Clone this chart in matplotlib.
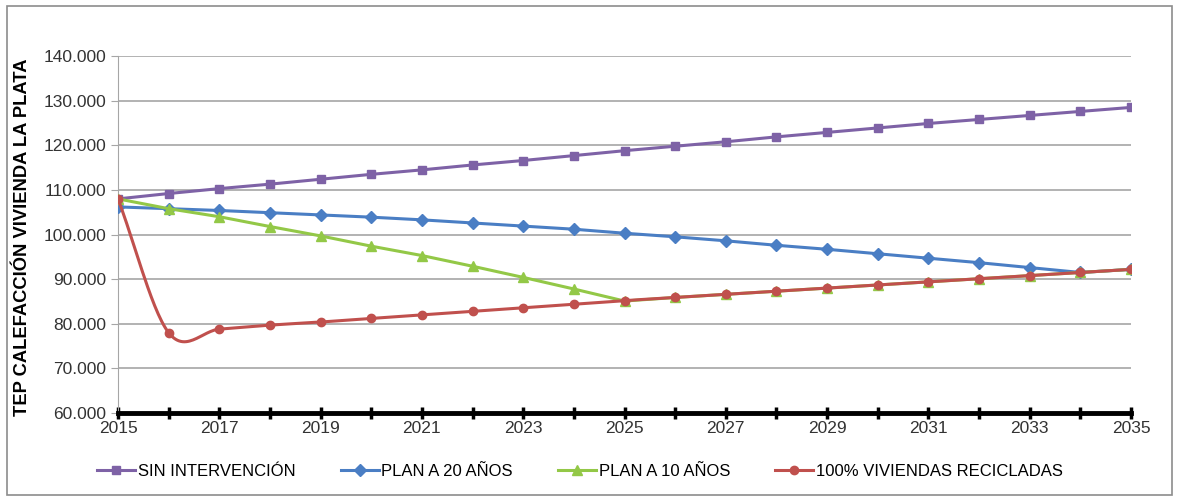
import numpy as np
import matplotlib.pyplot as plt
from matplotlib.patches import Rectangle
from matplotlib.ticker import FuncFormatter, MultipleLocator, FixedLocator

plt.rcParams['font.family'] = ['Liberation Sans', 'DejaVu Sans']

# data (TEP)
years = np.arange(2015, 2036)
sin_intervencion = [108000, 109200, 110300, 111300, 112400, 113500, 114500, 115600,
                    116600, 117700, 118800, 119800, 120800, 121900, 122900, 123900,
                    124900, 125800, 126700, 127600, 128500]
plan_20 = [106200, 105800, 105400, 104900, 104400, 103900, 103300, 102600,
           101900, 101200, 100300, 99500, 98600, 97600, 96700, 95700,
           94700, 93700, 92600, 91500, 92200]
plan_10 = [108000, 105800, 104000, 101800, 99700, 97400, 95300, 92900,
           90400, 87800, 85100, 85900, 86600, 87300, 88000, 88700,
           89400, 90100, 90800, 91500, 92200]
recicladas = [108000, 78000, 78800, 79700, 80400, 81200, 82000, 82800,
              83600, 84400, 85200, 85900, 86600, 87300, 88000, 88700,
              89400, 90100, 90800, 91500, 92200]


def smooth(x, y, n=30):
    # Catmull-Rom like Excel "smoothed line"
    x = np.asarray(x, float)
    y = np.asarray(y, float)
    xs, ys = [], []
    for i in range(len(x) - 1):
        m0 = (y[i + 1] - y[i - 1]) / 2 if i > 0 else (y[i + 1] - y[i])
        m1 = (y[i + 2] - y[i]) / 2 if i + 2 < len(y) else (y[i + 1] - y[i])
        t = np.linspace(0, 1, n)
        h00 = 2 * t**3 - 3 * t**2 + 1
        h10 = t**3 - 2 * t**2 + t
        h01 = -2 * t**3 + 3 * t**2
        h11 = t**3 - t**2
        xs.append(x[i] + t * (x[i + 1] - x[i]))
        ys.append(h00 * y[i] + h10 * m0 + h01 * y[i + 1] + h11 * m1)
    return np.concatenate(xs), np.concatenate(ys)


fig = plt.figure(figsize=(11.79, 5.01), dpi=100)
fig.patches.append(Rectangle((0.006, 0.012), 0.988, 0.976, transform=fig.transFigure,
                             fill=False, edgecolor='#8c8c8c', linewidth=1.2))
ax = fig.add_axes([0.1001, 0.1756, 0.8592, 0.7124])

lw = 2.2
ax.plot(years, sin_intervencion, color='#7E62A6', lw=lw, marker='s', ms=6,
        label='SIN INTERVENCIÓN', zorder=3)
ax.plot(years, plan_20, color='#4A7EC4', lw=lw, marker='D', ms=6.5,
        label='PLAN A 20 AÑOS', zorder=4)
ax.plot(years, plan_10, color='#93C847', lw=lw, marker='^', ms=7,
        label='PLAN A 10 AÑOS', zorder=5)
sx, sy = smooth(years, recicladas)
ax.plot(sx, sy, color='#C0504D', lw=lw, zorder=6)
ax.plot(years, recicladas, color='#C0504D', lw=0, marker='o', ms=6, zorder=6)
ax.plot([], [], color='#C0504D', lw=lw, marker='o', ms=6,
        label='100% VIVIENDAS RECICLADAS')

ax.set_xlim(2015, 2035)
ax.set_ylim(60000, 140000)
ax.yaxis.set_major_locator(MultipleLocator(10000))
ax.yaxis.set_major_formatter(FuncFormatter(lambda v, p: f'{v/1000:.3f}'))
ax.xaxis.set_major_locator(FixedLocator(years[::2]))
ax.xaxis.set_minor_locator(FixedLocator(years))
ax.grid(axis='y', color='#a6a6a6', lw=1.2)
ax.set_axisbelow(True)

for s in ['top', 'right']:
    ax.spines[s].set_visible(False)
ax.spines['left'].set_color('#a6a6a6')
ax.spines['bottom'].set_linewidth(3.5)
ax.spines['bottom'].set_zorder(7)
ax.tick_params(axis='y', length=5, color='#a6a6a6', labelsize=12.5, colors='#333333')
ax.tick_params(axis='x', which='both', direction='inout', length=8, width=2.5,
               labelsize=12.5, labelcolor='#333333', pad=2)
ax.set_ylabel('TEP CALEFACCIÓN VIVIENDA LA PLATA', fontsize=13.2, fontweight='bold')
ax.yaxis.set_label_coords(-0.086, 0.493)

ax.legend(loc='upper center', bbox_to_anchor=(0.456, -0.1), ncol=4, frameon=False,
          fontsize=12, handlelength=2.3, columnspacing=2.7, handletextpad=0.15)

plt.savefig('out.png', dpi=100)
